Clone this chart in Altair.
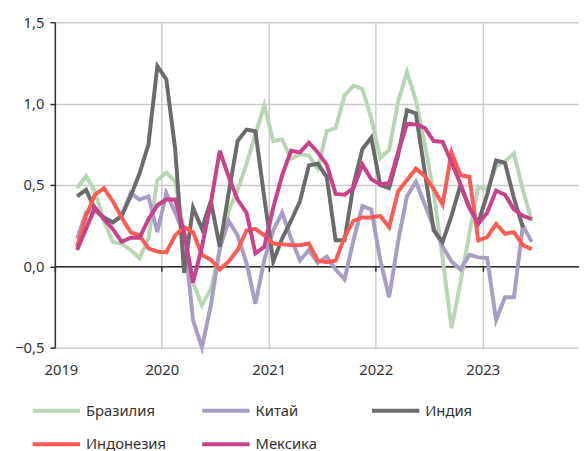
import altair as alt
import pandas as pd

# Monthly observations, March 2019 .. June 2023
start_year, start_month, n_months = 2019, 3, 52

series_names = ["Бразилия", "Китай", "Индия", "Индонезия", "Мексика"]
series_colors = ["#b7d7b4", "#a99cc6", "#6b6b6b", "#ff5a52", "#c8418a"]

brazil = [0.48, 0.555, 0.46, 0.28, 0.15, 0.14, 0.10, 0.05, 0.17, 0.53, 0.575, 0.52,
          0.21, -0.10, -0.24, -0.14, 0.10, 0.34, 0.47, 0.63, 0.81, 0.99, 0.77, 0.78,
          0.66, 0.69, 0.68, 0.60, 0.83, 0.85, 1.05, 1.11, 1.09, 0.91, 0.665, 0.715,
          1.01, 1.195, 1.02, 0.75, 0.45, 0.05, -0.38, -0.10, 0.20, 0.49, 0.47, 0.615,
          0.645, 0.695, 0.47, 0.28]
china = [0.17, 0.33, 0.34, 0.30, 0.27, 0.31, 0.45, 0.41, 0.43, 0.21, 0.45, 0.33,
         0.20, -0.33, -0.50, -0.24, 0.11, 0.28, 0.19, 0.02, -0.23, 0.04, 0.22, 0.33,
         0.17, 0.035, 0.10, 0.02, 0.06, -0.02, -0.08, 0.16, 0.37, 0.35, 0.04, -0.19,
         0.15, 0.43, 0.52, 0.38, 0.24, 0.12, 0.03, -0.02, 0.07, 0.055, 0.05, -0.33,
         -0.19, -0.19, 0.25, 0.15]
india = [0.43, 0.47, 0.35, 0.30, 0.27, 0.31, 0.43, 0.57, 0.75, 1.23, 1.15, 0.72,
         -0.04, 0.36, 0.23, 0.40, 0.12, 0.45, 0.77, 0.84, 0.83, 0.42, 0.03, 0.17,
         0.28, 0.40, 0.62, 0.63, 0.55, 0.16, 0.16, 0.50, 0.72, 0.79, 0.50, 0.48,
         0.68, 0.96, 0.94, 0.58, 0.22, 0.15, 0.31, 0.50, 0.36, 0.27, 0.44, 0.65,
         0.635, 0.42, 0.24, None]
indonesia = [0.12, 0.31, 0.44, 0.48, 0.40, 0.30, 0.21, 0.19, 0.11, 0.09, 0.085, 0.19,
             0.24, 0.21, 0.07, 0.04, -0.02, 0.03, 0.10, 0.22, 0.23, 0.19, 0.14, 0.135,
             0.13, 0.13, 0.14, 0.035, 0.025, 0.035, 0.18, 0.28, 0.30, 0.30, 0.31, 0.24,
             0.46, 0.53, 0.60, 0.555, 0.475, 0.38, 0.70, 0.56, 0.55, 0.16, 0.18, 0.26,
             0.20, 0.21, 0.13, 0.105]
mexico = [0.10, 0.23, 0.36, 0.29, 0.23, 0.15, 0.175, 0.175, 0.29, 0.375, 0.41, 0.41,
          0.21, -0.10, 0.12, 0.39, 0.71, 0.55, 0.41, 0.33, 0.08, 0.12, 0.36, 0.56,
          0.71, 0.70, 0.76, 0.70, 0.625, 0.445, 0.44, 0.48, 0.625, 0.535, 0.505, 0.51,
          0.70, 0.875, 0.872, 0.85, 0.77, 0.765, 0.64, 0.505, 0.36, 0.26, 0.33, 0.465,
          0.44, 0.35, 0.31, 0.29]

year_ticks = [2019, 2020, 2021, 2022, 2023]
y_ticks = [-0.5, 0.0, 0.5, 1.0, 1.5]

all_values = [brazil, china, india, indonesia, mexico]
rows = []
for name, vals in zip(series_names, all_values):
    for i, v in enumerate(vals):
        m = start_month - 1 + i
        t = start_year + m // 12 + ((m % 12) + 0.5) / 12.0
        if v is not None:
            rows.append({"t": t, "value": v, "series": name, "k": series_names.index(name)})
df = pd.DataFrame(rows)

FONT = "Noto Sans"
x_scale = alt.Scale(domain=[2019, 2023.9], nice=False, zero=False)
y_scale = alt.Scale(domain=[-0.5, 1.5], nice=False, zero=False)

lines = alt.Chart(df).mark_line(strokeWidth=4).encode(
    x=alt.X("t:Q", scale=x_scale,
            axis=alt.Axis(values=year_ticks, orient="bottom", offset=-82.5,
                          labels=False, title=None, domain=True, domainColor="#333333",
                          domainWidth=1.5, ticks=True, tickColor="#333333", tickSize=5,
                          tickWidth=1.5, grid=True, gridColor="#cccccc", gridWidth=1.5)),
    y=alt.Y("value:Q", scale=y_scale,
            axis=alt.Axis(values=y_ticks, title=None, domain=True, domainColor="#333333",
                          domainWidth=1.5, ticks=True, tickColor="#333333", tickSize=5,
                          tickWidth=1.5, grid=True, gridColor="#cccccc", gridWidth=1.5,
                          labelExpr="replace(format(datum.value, '.1f'), '.', ',')",
                          labelFontSize=15, labelFont=FONT, labelColor="#333333",
                          labelPadding=6)),
    color=alt.Color("series:N",
                    scale=alt.Scale(domain=series_names, range=series_colors),
                    sort=series_names,
                    legend=alt.Legend(title=None, orient="none", direction="horizontal",
                                      legendX=-24.5, legendY=368,
                                      columns=3, gridAlign="all", columnPadding=28,
                                      rowPadding=-10, symbolType="stroke", symbolSize=2304,
                                      symbolStrokeWidth=4, labelFontSize=15, labelFont=FONT,
                                      labelColor="#333333", labelOffset=4, padding=0)),
    order=alt.Order("k:Q"),
)

labels_layer = alt.Chart(df).mark_line(opacity=0).encode(
    x=alt.X("t:Q", scale=x_scale,
            axis=alt.Axis(values=year_ticks, orient="bottom", format="d", title=None,
                          domain=False, ticks=False, grid=False, labelFontSize=15,
                          labelFont=FONT, labelColor="#333333", labelPadding=15,
                          labelFlush=True, labelFlushOffset=11)),
    y=alt.Y("value:Q", scale=y_scale, axis=None),
    detail="series:N",
)

chart = alt.layer(lines, labels_layer).resolve_axis(
    x="independent", y="independent"
).properties(
    width=531.5, height=330,
    padding={"left": 47.5, "top": 11.3, "right": 0, "bottom": 103},
    autosize=alt.AutoSizeParams(type="none"),
).configure_view(stroke=None)

chart.save("out.html", embed_options={"renderer": "svg", "actions": False})
